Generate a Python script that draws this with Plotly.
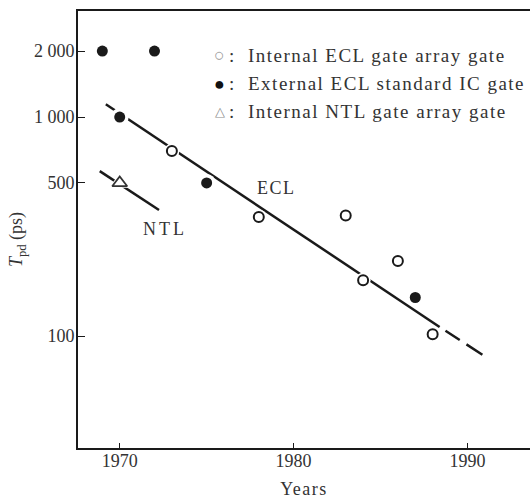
import plotly.graph_objects as go

# Gate propagation delay (ps) by year
int_ecl_years = [1973, 1978, 1983, 1984, 1986, 1988]
int_ecl_tpd = [700, 350, 355, 180, 220, 102]

ext_ecl_years = [1969, 1972, 1970, 1975, 1987]
ext_ecl_tpd = [2000, 2000, 1000, 500, 150]

int_ntl_years = [1970]
int_ntl_tpd = [500]

# Trend lines
ecl_trend_years = [1969.2, 1988.4]
ecl_trend_tpd = [1143, 110]
ecl_proj_years = [1988.4, 1991.3]
ecl_proj_tpd = [110, 78]
ntl_trend_years = [1968.85, 1972.26]
ntl_trend_tpd = [566, 376]

x_ticks = [1970, 1980, 1990]
y_ticks = [100, 500, 1000, 2000]
y_tick_text = ["100", "500", "1 000", "2 000"]

legend_symbols = [("○", "#9a9a9a", 18), ("●", "#111111", 18), ("△", "#8a8a8a", 13)]
legend_labels = ["Internal ECL gate array gate",
                 "External ECL standard IC gate",
                 "Internal NTL gate array gate"]

INK = "#1a1a1a"
TXT = "#333333"
SERIF = "Liberation Serif, Times New Roman, serif"


def spaced(text, px):
    return f'<span style="letter-spacing:{px}px">{text}</span>'


fig = go.Figure()

# trend lines
fig.add_trace(go.Scatter(x=ecl_trend_years, y=ecl_trend_tpd, mode="lines",
                         line=dict(color=INK, width=2.5), hoverinfo="skip"))
fig.add_trace(go.Scatter(x=ecl_proj_years, y=ecl_proj_tpd, mode="lines",
                         line=dict(color=INK, width=2.5, dash="0px,7px,17px,8px,19px,30px"),
                         hoverinfo="skip"))
fig.add_trace(go.Scatter(x=ntl_trend_years, y=ntl_trend_tpd, mode="lines",
                         line=dict(color=INK, width=2.5), hoverinfo="skip"))

# white halos that break the lines around markers
for xs, ys, sym, sz in [(ext_ecl_years, ext_ecl_tpd, "circle", 18),
                        (int_ecl_years, int_ecl_tpd, "circle", 15),
                        (int_ntl_years, int_ntl_tpd, "triangle-up", 19)]:
    fig.add_trace(go.Scatter(x=xs, y=ys, mode="markers",
                             marker=dict(symbol=sym, size=sz, color="white",
                                         line=dict(width=0)),
                             hoverinfo="skip"))

fig.add_trace(go.Scatter(x=int_ecl_years, y=int_ecl_tpd, mode="markers",
                         marker=dict(symbol="circle", size=10, color="white",
                                     line=dict(color=INK, width=2))))
fig.add_trace(go.Scatter(x=ext_ecl_years, y=ext_ecl_tpd, mode="markers",
                         marker=dict(symbol="circle", size=11, color=INK,
                                     line=dict(width=0))))
fig.add_trace(go.Scatter(x=int_ntl_years, y=int_ntl_tpd, mode="markers",
                         marker=dict(symbol="triangle-up", size=13, color="white",
                                     line=dict(color="#333", width=1.8))))

annotations = []
for i, ((sym, col, fs), label) in enumerate(zip(legend_symbols, legend_labels)):
    yy = 0.899 - i * 0.065
    annotations.append(dict(text=sym, xref="paper", yref="paper", x=0.314, y=yy,
                            xanchor="center", yanchor="middle", showarrow=False,
                            font=dict(family=SERIF, size=fs, color=col)))
    annotations.append(dict(text=":", xref="paper", yref="paper", x=0.330, y=yy,
                            xanchor="left", yanchor="middle", showarrow=False,
                            font=dict(family=SERIF, size=19, color=TXT)))
    annotations.append(dict(text=spaced(label, 1.5), xref="paper", yref="paper",
                            x=0.372, y=yy, xanchor="left", yanchor="middle",
                            showarrow=False,
                            font=dict(family=SERIF, size=19, color=TXT)))
annotations.append(dict(text=spaced("ECL", 1.5), x=1979.0, y=2.676, xref="x", yref="y",
                        showarrow=False, font=dict(family=SERIF, size=18, color=TXT)))
annotations.append(dict(text=spaced("NTL", 3), x=1972.6, y=2.489, xref="x", yref="y",
                        showarrow=False, font=dict(family=SERIF, size=18, color=TXT)))
annotations.append(dict(text="<i>T</i><sub>pd</sub> (ps)", xref="paper", yref="paper",
                        x=-0.135, y=0.478, textangle=-90, showarrow=False,
                        xanchor="center", yanchor="middle",
                        font=dict(family=SERIF, size=18, color=TXT)))

fig.update_layout(
    width=530, height=502,
    margin=dict(l=78, r=0, t=11, b=54),
    paper_bgcolor="white", plot_bgcolor="white",
    showlegend=False,
    annotations=annotations,
    xaxis=dict(range=[1967.6, 1993.6], tickvals=x_ticks,
               ticks="inside", ticklen=5, tickwidth=1.2, tickcolor=INK,
               showline=True, linecolor=INK, linewidth=2, mirror=True,
               showgrid=False, zeroline=False, ticklabelstandoff=-5,
               tickfont=dict(family=SERIF, size=18, color=TXT),
               title=dict(text=spaced("Years", 1.5),
                          font=dict(family=SERIF, size=18, color=TXT),
                          standoff=13)),
    yaxis=dict(type="log", range=[1.489, 3.484], tickvals=y_ticks, ticktext=y_tick_text,
               ticks="inside", ticklen=7, tickwidth=1.2, tickcolor=INK,
               showline=True, linecolor=INK, linewidth=2, mirror=False,
               showgrid=False, zeroline=False, ticklabelstandoff=-2,
               tickfont=dict(family=SERIF, size=18, color=TXT)),
)

fig.write_html("out.html")
